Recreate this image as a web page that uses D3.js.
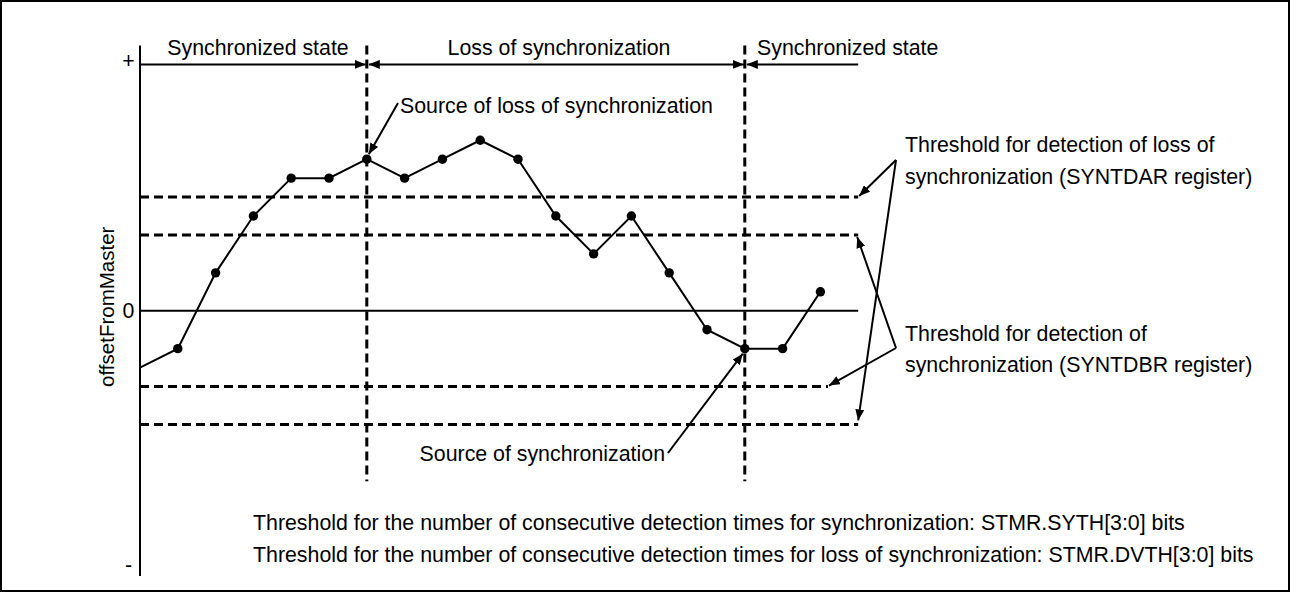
<!DOCTYPE html>
<html>
<head>
<meta charset="utf-8">
<script src="https://cdn.jsdelivr.net/npm/d3@7"></script>
<style>
  html, body { margin: 0; padding: 0; background: #fff; }
  svg { display: block; font-family: "Liberation Sans", Arial, Helvetica, sans-serif; }
</style>
</head>
<body>
<svg id="chart" width="1290" height="592"></svg>
<script>
// Sample index (t) of each measured offset and its value in threshold steps
const sampleSteps  = [1, 2, 3, 4, 5, 6, 7, 8, 9, 10, 11, 12, 13, 14, 15, 16, 17, 18];
const offsetValues = [-1, 1, 2.5, 3.5, 3.5, 4, 3.5, 4, 4.5, 4, 2.5, 1.5, 2.5, 1, -0.5, -1, -1, 0.5];
// The trace enters from the axis before the first sample
const traceStart = { t: 0, v: -1.5 };

// Threshold levels (dashed lines)
const lossThresholds = [3, -3];   // SYNTDAR
const syncThresholds = [2, -2];   // SYNTDBR

// State boundaries and header labels
const stateBoundaries = [6, 16];
const stateLabels = ["Synchronized state", "Loss of synchronization", "Synchronized state"];
const axisTickLabels = ["+", "0", "-"];

const svg = d3.select("#chart");
const font = 21.33;

const x = d3.scaleLinear().domain([0, 19]).range([140, 858.2]);
const y = d3.scaleLinear().domain([-7, 7]).range([576, 45.5]);

// outer frame
svg.append("rect").attr("x", 1).attr("y", 1).attr("width", 1288).attr("height", 590)
  .attr("fill", "none").attr("stroke", "#000").attr("stroke-width", 2);

// arrowhead marker
const defs = svg.append("defs");
defs.append("marker").attr("id", "head")
  .attr("viewBox", "0 0 11 9").attr("refX", 11).attr("refY", 4.5)
  .attr("markerWidth", 11).attr("markerHeight", 9)
  .attr("markerUnits", "userSpaceOnUse").attr("orient", "auto-start-reverse")
  .append("path").attr("d", "M0,0 L11,4.5 L0,9 Z").attr("fill", "#000");

// vertical axis
svg.append("line").attr("x1", x(0)).attr("x2", x(0)).attr("y1", y(7)).attr("y2", y(-7))
  .attr("stroke", "#000").attr("stroke-width", 2);

// zero line
svg.append("line").attr("x1", x(0)).attr("x2", x(19)).attr("y1", y(0)).attr("y2", y(0))
  .attr("stroke", "#000").attr("stroke-width", 2);

// axis marks
const tickY = [6.6, 0, -6.7];
axisTickLabels.forEach((s, i) => {
  svg.append("text").attr("x", 128.5).attr("y", y(tickY[i])).attr("dy", "0.35em")
    .attr("text-anchor", "middle").attr("font-size", font).text(s);
});

// axis title
svg.append("text").attr("transform", `translate(113.5,${y(0) - 4}) rotate(-90)`)
  .attr("text-anchor", "middle").attr("font-size", 20.5).text("offsetFromMaster");

// threshold lines
const dash = "9,5";
const thresholdEnds = new Map([[3, 19], [2, 19], [-2, 18.2], [-3, 19]]);
[...lossThresholds, ...syncThresholds].forEach(v => {
  svg.append("line").attr("x1", x(0)).attr("x2", x(thresholdEnds.get(v)))
    .attr("y1", y(v)).attr("y2", y(v))
    .attr("stroke", "#000").attr("stroke-width", 3).attr("stroke-dasharray", dash);
});

// state boundary lines
stateBoundaries.forEach(t => {
  svg.append("line").attr("x1", x(t)).attr("x2", x(t)).attr("y1", y(7)).attr("y2", y(-4.5))
    .attr("stroke", "#000").attr("stroke-width", 3).attr("stroke-dasharray", dash);
});

// state span arrows
const headerY = y(6.5);
const spans = [[0, stateBoundaries[0]], [stateBoundaries[0], stateBoundaries[1]], [stateBoundaries[1], 19]];
spans.forEach(([a, b], i) => {
  const ln = svg.append("line")
    .attr("x1", x(a) + (i > 0 ? 2 : 0)).attr("x2", x(b) - (i < 2 ? 1 : 0))
    .attr("y1", headerY).attr("y2", headerY)
    .attr("stroke", "#000").attr("stroke-width", 2);
  if (i < 2) ln.attr("marker-end", "url(#head)");
  if (i > 0) ln.attr("marker-start", "url(#head)");
});
const headerX = [258, 559, 757];
const headerAnchor = ["middle", "middle", "start"];
stateLabels.forEach((s, i) => {
  svg.append("text").attr("x", headerX[i]).attr("y", 55).attr("text-anchor", headerAnchor[i])
    .attr("font-size", font).text(s);
});

// offset trace
const pts = [traceStart, ...sampleSteps.map((t, i) => ({ t, v: offsetValues[i] }))];
svg.append("path").datum(pts)
  .attr("d", d3.line().x(d => x(d.t)).y(d => y(d.v)))
  .attr("fill", "none").attr("stroke", "#000").attr("stroke-width", 2);
svg.selectAll("circle.pt").data(pts.slice(1)).join("circle").attr("class", "pt")
  .attr("cx", d => x(d.t)).attr("cy", d => y(d.v)).attr("r", 4.7).attr("fill", "#000");

// callouts
function arrow(x1, y1, x2, y2) {
  svg.append("line").attr("x1", x1).attr("y1", y1).attr("x2", x2).attr("y2", y2)
    .attr("stroke", "#000").attr("stroke-width", 2).attr("marker-end", "url(#head)");
}
function label(tx, ty, s, anchor) {
  svg.append("text").attr("x", tx).attr("y", ty).attr("text-anchor", anchor || "start")
    .attr("font-size", font).text(s);
}

const lossIdx = sampleSteps.indexOf(stateBoundaries[0]);
const syncIdx = sampleSteps.indexOf(stateBoundaries[1]);
label(400, 113, "Source of loss of synchronization");
arrow(398, 103, x(sampleSteps[lossIdx]) + 2, y(offsetValues[lossIdx]) - 5);
label(665, 461, "Source of synchronization", "end");
arrow(668, 453, x(sampleSteps[syncIdx]) - 2, y(offsetValues[syncIdx]) + 5);

// SYNTDAR callout
label(905, 152, "Threshold for detection of loss of");
label(905, 184, "synchronization (SYNTDAR register)");
arrow(896, 160, x(19) + 1, y(lossThresholds[0]) - 1);
arrow(896, 160, x(19), y(lossThresholds[1]) - 4);

// SYNTDBR callout
label(905, 341, "Threshold for detection of");
label(905, 372, "synchronization (SYNTDBR register)");
arrow(896, 348, x(19) - 1, y(syncThresholds[0]) + 2);
arrow(896, 348, x(18.2) + 1, y(syncThresholds[1]) - 1);

// footnotes
label(253, 530, "Threshold for the number of consecutive detection times for synchronization: STMR.SYTH[3:0] bits");
label(253, 562, "Threshold for the number of consecutive detection times for loss of synchronization: STMR.DVTH[3:0] bits");
</script>
</body>
</html>
